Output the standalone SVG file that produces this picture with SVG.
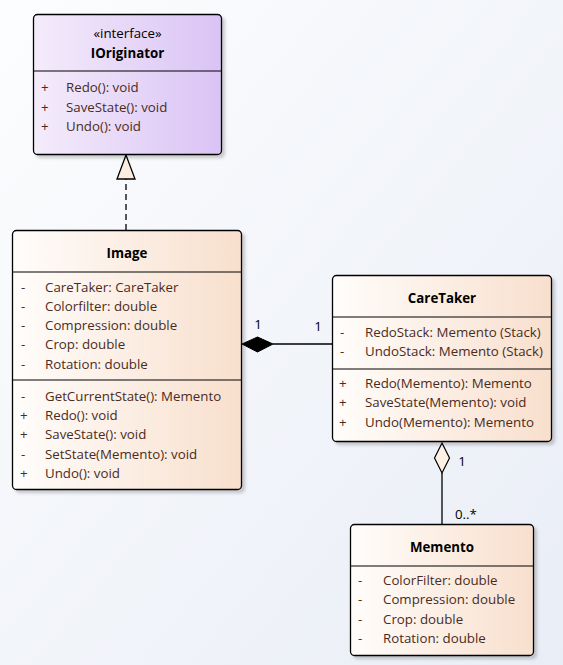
<svg xmlns="http://www.w3.org/2000/svg" width="563" height="665" viewBox="0 0 563 665">
  <defs>
    <linearGradient id="bg" x1="0" y1="0" x2="1" y2="1">
      <stop offset="0" stop-color="#fcfdfe"/>
      <stop offset="1" stop-color="#e9edf6"/>
    </linearGradient>
    <linearGradient id="gClass" x1="0" y1="0" x2="1" y2="0">
      <stop offset="0" stop-color="#fffdfb"/>
      <stop offset="1" stop-color="#f8dfcd"/>
    </linearGradient>
    <linearGradient id="gIface" x1="0" y1="0" x2="1" y2="0">
      <stop offset="0" stop-color="#f4ecfb"/>
      <stop offset="1" stop-color="#dac3f5"/>
    </linearGradient>
    <filter id="sh" x="-10%" y="-10%" width="130%" height="130%">
      <feDropShadow dx="3" dy="3" stdDeviation="1.5" flood-color="#000" flood-opacity="0.18"/>
    </filter>
  </defs>
  <style>
    .box { stroke: #000; stroke-width: 1.3; filter: url(#sh); }
    .cls { fill: url(#gClass); }
    .ifc { fill: url(#gIface); }
    .sep { stroke: #000; stroke-width: 1; }
    text { font-family: "Open Sans", "Noto Sans", "Liberation Sans", sans-serif; font-size: 13.3px; }
    .name { font-weight: bold; fill: #000; text-anchor: middle; }
    .ster { fill: #000; text-anchor: middle; }
    .mem { fill: #4a2c1c; }
    .lbl { fill: #000; }
    .conn { stroke: #000; stroke-width: 1.3; fill: none; }
  </style>
  <rect x="0" y="0" width="563" height="665" fill="url(#bg)"/>

  <g id="connectors">
    <path class="conn" d="M126,230 V179" stroke-dasharray="6,4"/>
    <polygon points="126,155 117,179 135,179" fill="#fbeee0" stroke="#000" stroke-width="1.3"/>
    <path class="conn" d="M273,344 H333"/>
    <polygon points="242,344 257.5,337 273,344 257.5,352" fill="#000" stroke="#000" stroke-width="1"/>
    <path class="conn" d="M442,473 V524"/>
    <polygon points="442,443 449.5,458 442,473 434.5,458" fill="#fdf1e6" stroke="#000" stroke-width="1.2"/>
    <text class="lbl" x="258" y="329" text-anchor="middle">1</text>
    <text class="lbl" x="318" y="331" text-anchor="middle">1</text>
    <text class="lbl" x="462" y="466" text-anchor="middle">1</text>
    <text class="lbl" x="455" y="519">0..*</text>
  </g>

  <g id="IOriginator">
    <rect class="box ifc" x="33.5" y="14.5" width="188" height="140" rx="4"/>
    <line class="sep" x1="34" y1="71" x2="221" y2="71"/>
    <text class="ster" x="127.5" y="38">«interface»</text>
    <text class="name" x="127.5" y="58">IOriginator</text>
    <text class="mem" x="41" y="92">+</text><text class="mem" x="66" y="92">Redo(): void</text>
    <text class="mem" x="41" y="112">+</text><text class="mem" x="66" y="112">SaveState(): void</text>
    <text class="mem" x="41" y="131">+</text><text class="mem" x="66" y="131">Undo(): void</text>
  </g>

  <g id="Image">
    <rect class="box cls" x="12.5" y="230.5" width="229" height="259" rx="4"/>
    <line class="sep" x1="13" y1="272" x2="241" y2="272"/>
    <line class="sep" x1="13" y1="380" x2="241" y2="380"/>
    <text class="name" x="127" y="258">Image</text>
    <text class="mem" x="21" y="292">-</text><text class="mem" x="45" y="292">CareTaker: CareTaker</text>
    <text class="mem" x="21" y="311">-</text><text class="mem" x="45" y="311">Colorfilter: double</text>
    <text class="mem" x="21" y="330">-</text><text class="mem" x="45" y="330">Compression: double</text>
    <text class="mem" x="21" y="349">-</text><text class="mem" x="45" y="349">Crop: double</text>
    <text class="mem" x="21" y="369">-</text><text class="mem" x="45" y="369">Rotation: double</text>
    <text class="mem" x="21" y="401">-</text><text class="mem" x="45" y="401">GetCurrentState(): Memento</text>
    <text class="mem" x="20" y="420">+</text><text class="mem" x="45" y="420">Redo(): void</text>
    <text class="mem" x="20" y="439">+</text><text class="mem" x="45" y="439">SaveState(): void</text>
    <text class="mem" x="21" y="459">-</text><text class="mem" x="45" y="459">SetState(Memento): void</text>
    <text class="mem" x="20" y="478">+</text><text class="mem" x="45" y="478">Undo(): void</text>
  </g>

  <g id="CareTaker">
    <rect class="box cls" x="332.5" y="275.5" width="219" height="166" rx="4"/>
    <line class="sep" x1="333" y1="317" x2="551" y2="317"/>
    <line class="sep" x1="333" y1="369" x2="551" y2="369"/>
    <text class="name" x="442" y="303">CareTaker</text>
    <text class="mem" x="340" y="337">-</text><text class="mem" x="365" y="337">RedoStack: Memento (Stack)</text>
    <text class="mem" x="340" y="356">-</text><text class="mem" x="365" y="356">UndoStack: Memento (Stack)</text>
    <text class="mem" x="339" y="388">+</text><text class="mem" x="365" y="388">Redo(Memento): Memento</text>
    <text class="mem" x="339" y="407">+</text><text class="mem" x="365" y="407">SaveState(Memento): void</text>
    <text class="mem" x="339" y="427">+</text><text class="mem" x="365" y="427">Undo(Memento): Memento</text>
  </g>

  <g id="Memento">
    <rect class="box cls" x="350.5" y="524.5" width="183" height="131" rx="4"/>
    <line class="sep" x1="351" y1="566" x2="533" y2="566"/>
    <text class="name" x="442" y="552">Memento</text>
    <text class="mem" x="358" y="585">-</text><text class="mem" x="383" y="585">ColorFilter: double</text>
    <text class="mem" x="358" y="604">-</text><text class="mem" x="383" y="604">Compression: double</text>
    <text class="mem" x="358" y="624">-</text><text class="mem" x="383" y="624">Crop: double</text>
    <text class="mem" x="358" y="643">-</text><text class="mem" x="383" y="643">Rotation: double</text>
  </g>
</svg>
